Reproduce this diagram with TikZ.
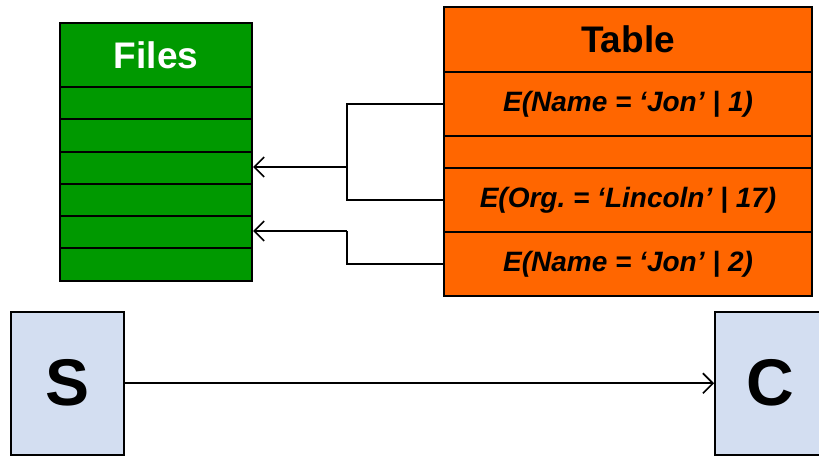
\documentclass[tikz,border=0pt]{standalone}
\usepackage{fontspec}
\setmainfont{Liberation Sans}
\usetikzlibrary{arrows.meta}
\definecolor{fgreen}{HTML}{009900}
\definecolor{torange}{HTML}{FF6600}
\definecolor{sblue}{HTML}{D3DEF1}
\tikzset{
  cell/.style={draw=black, line width=2pt, inner sep=0pt, anchor=north west, align=center},
  frow/.style={cell, fill=fgreen, minimum width=192pt, minimum height=32pt},
  fhead/.style={cell, fill=fgreen, minimum width=192pt, minimum height=64pt, text=white, font=\fontsize{37}{40}\selectfont\bfseries},
  trow/.style={cell, fill=torange, minimum width=368pt, minimum height=64pt, font=\fontsize{28}{32}\selectfont\bfseries\itshape},
  thead/.style={cell, fill=torange, minimum width=368pt, minimum height=65pt, font=\fontsize{37}{40}\selectfont\bfseries},
  sbox/.style={draw=black, line width=1.5pt, fill=sblue, inner sep=0pt, minimum width=113pt, minimum height=143pt, anchor=north west, font=\fontsize{66}{70}\selectfont\bfseries},
  conn/.style={draw=black, line width=1.6pt},
  arr/.style={conn, -{Straight Barb[length=10pt,width=20pt,line width=1.6pt]}}
}
\begin{document}
\begin{tikzpicture}[x=1pt,y=-1pt]
\useasboundingbox (0,0) rectangle (819,455);
\clip (0,0) rectangle (819,455);
% Files
\node[fhead] (fh) at (59,22) {Files};
\node[frow] (f1) at (59,86) {};
\node[frow, minimum height=33pt] (f2) at (59,118) {};
\node[frow] (f3) at (59,151) {};
\node[frow] (f4) at (59,183) {};
\node[frow] (f5) at (59,215) {};
\node[frow, minimum height=33pt] (f6) at (59,247) {};
% Table
\node[thead] (th) at (443,6) {Table};
\node[trow] (t1) at (443,71) {E(Name = ‘Jon’ | 1)};
\node[trow, minimum height=32pt] (t2) at (443,135) {};
\node[trow] (t3) at (443,167) {E(Org.\ = ‘Lincoln’ | 17)};
\node[trow] (t4) at (443,231) {E(Name = ‘Jon’ | 2)};
% junctions
\coordinate (j1) at (347,167);
\coordinate (j2) at (347,231);
\draw[conn] (t1.west) -| (j1) |- (t3.west);
\draw[arr] (j1) -- (f3.east |- j1);
\draw[conn] (t4.west) -| (j2);
\draw[arr] (j2) -- (f5.east |- j2);
% S and C
\node[sbox] (s) at (10,311) {S};
\node[sbox, minimum width=112pt] (c) at (714,311) {C};
\draw[arr] (s.east) -- (c.west);
\end{tikzpicture}
\end{document}
